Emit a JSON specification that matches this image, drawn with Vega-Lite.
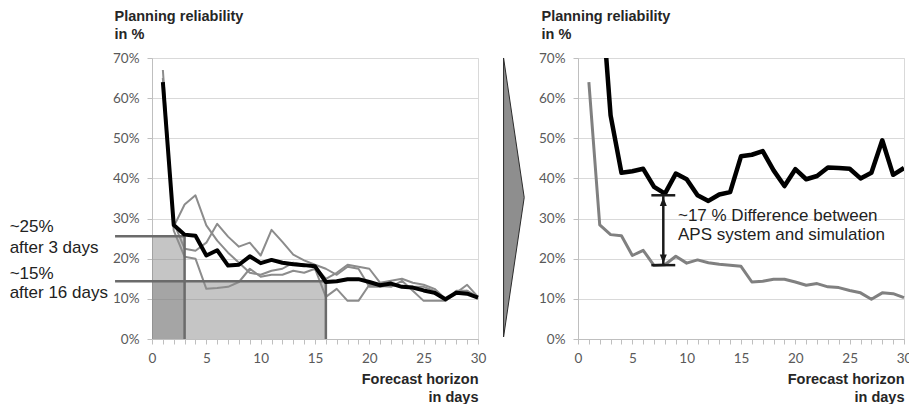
{
  "$schema": "https://vega.github.io/schema/vega-lite/v6.json",
  "background": "white",
  "padding": {"left": 9, "top": 7, "right": 0, "bottom": 0},
  "spacing": 100,
  "bounds": "flush",
  "config": {
    "view": {"stroke": "#d9d9d9"},
    "axis": {
      "labelFont": "Lato", "labelFontSize": 13.5, "labelColor": "#595959",
      "titleFont": "Liberation Sans", "titleFontSize": 14.5, "titleFontWeight": "bold", "titleColor": "#262626",
      "domainColor": "#bfbfbf", "tickColor": "#bfbfbf", "gridColor": "#d9d9d9", "tickSize": 5
    }
  },
  "datasets": {
    "sim": [
      {"day": 1, "value": 64}, {"day": 2, "value": 28.4}, {"day": 3, "value": 26}, {"day": 4, "value": 25.7},
      {"day": 5, "value": 20.8}, {"day": 6, "value": 22.1}, {"day": 7, "value": 18.3}, {"day": 8, "value": 18.5},
      {"day": 9, "value": 20.6}, {"day": 10, "value": 18.9}, {"day": 11, "value": 19.7}, {"day": 12, "value": 19.0},
      {"day": 13, "value": 18.6}, {"day": 14, "value": 18.4}, {"day": 15, "value": 18.1}, {"day": 16, "value": 14.2},
      {"day": 17, "value": 14.4}, {"day": 18, "value": 14.9}, {"day": 19, "value": 14.9}, {"day": 20, "value": 14.2},
      {"day": 21, "value": 13.4}, {"day": 22, "value": 13.8}, {"day": 23, "value": 13.0}, {"day": 24, "value": 12.8},
      {"day": 25, "value": 12.1}, {"day": 26, "value": 11.5}, {"day": 27, "value": 9.9}, {"day": 28, "value": 11.5},
      {"day": 29, "value": 11.3}, {"day": 30, "value": 10.3}
    ],
    "aps": [
      {"day": 2, "value": 91.5}, {"day": 3, "value": 55.7}, {"day": 4, "value": 41.4}, {"day": 5, "value": 41.8},
      {"day": 6, "value": 42.4}, {"day": 7, "value": 37.9}, {"day": 8, "value": 36.2}, {"day": 9, "value": 41.2},
      {"day": 10, "value": 39.8}, {"day": 11, "value": 35.8}, {"day": 12, "value": 34.4}, {"day": 13, "value": 36.0},
      {"day": 14, "value": 36.6}, {"day": 15, "value": 45.5}, {"day": 16, "value": 45.9}, {"day": 17, "value": 46.8},
      {"day": 18, "value": 42.0}, {"day": 19, "value": 38.1}, {"day": 20, "value": 42.3}, {"day": 21, "value": 39.8},
      {"day": 22, "value": 40.6}, {"day": 23, "value": 42.7}, {"day": 24, "value": 42.6}, {"day": 25, "value": 42.4},
      {"day": 26, "value": 40.0}, {"day": 27, "value": 41.4}, {"day": 28, "value": 49.5}, {"day": 29, "value": 40.9},
      {"day": 30, "value": 42.6}
    ],
    "runs": [
      {"run": "a", "day": 1, "value": 67}, {"run": "a", "day": 2, "value": 28}, {"run": "a", "day": 3, "value": 33.5},
      {"run": "a", "day": 4, "value": 35.8}, {"run": "a", "day": 5, "value": 28.3}, {"run": "a", "day": 6, "value": 24.5},
      {"run": "a", "day": 7, "value": 21.5}, {"run": "a", "day": 8, "value": 19}, {"run": "a", "day": 9, "value": 16.5},
      {"run": "a", "day": 10, "value": 16}, {"run": "a", "day": 11, "value": 17}, {"run": "a", "day": 12, "value": 17.5},
      {"run": "a", "day": 13, "value": 19}, {"run": "a", "day": 14, "value": 18.5}, {"run": "a", "day": 15, "value": 18},
      {"run": "a", "day": 16, "value": 15}, {"run": "a", "day": 17, "value": 16.5}, {"run": "a", "day": 18, "value": 18.5},
      {"run": "a", "day": 19, "value": 18}, {"run": "a", "day": 20, "value": 17.5}, {"run": "a", "day": 21, "value": 14},
      {"run": "a", "day": 22, "value": 14.5}, {"run": "a", "day": 23, "value": 15}, {"run": "a", "day": 24, "value": 14},
      {"run": "a", "day": 25, "value": 13.5}, {"run": "a", "day": 26, "value": 12.5}, {"run": "a", "day": 27, "value": 10},
      {"run": "a", "day": 28, "value": 11.5}, {"run": "a", "day": 29, "value": 12}, {"run": "a", "day": 30, "value": 10.5},
      {"run": "b", "day": 1, "value": 65}, {"run": "b", "day": 2, "value": 29}, {"run": "b", "day": 3, "value": 22.5},
      {"run": "b", "day": 4, "value": 22}, {"run": "b", "day": 5, "value": 24}, {"run": "b", "day": 6, "value": 28.7},
      {"run": "b", "day": 7, "value": 25.5}, {"run": "b", "day": 8, "value": 23}, {"run": "b", "day": 9, "value": 24},
      {"run": "b", "day": 10, "value": 20.8}, {"run": "b", "day": 11, "value": 27.2}, {"run": "b", "day": 12, "value": 24.2},
      {"run": "b", "day": 13, "value": 21}, {"run": "b", "day": 14, "value": 19.6}, {"run": "b", "day": 15, "value": 18.5},
      {"run": "b", "day": 16, "value": 17.5}, {"run": "b", "day": 17, "value": 16}, {"run": "b", "day": 18, "value": 18},
      {"run": "b", "day": 19, "value": 17.5}, {"run": "b", "day": 20, "value": 13}, {"run": "b", "day": 21, "value": 13},
      {"run": "b", "day": 22, "value": 13.5}, {"run": "b", "day": 23, "value": 13}, {"run": "b", "day": 24, "value": 13},
      {"run": "b", "day": 25, "value": 13}, {"run": "b", "day": 26, "value": 12}, {"run": "b", "day": 27, "value": 9.5},
      {"run": "b", "day": 28, "value": 11.5}, {"run": "b", "day": 29, "value": 13.5}, {"run": "b", "day": 30, "value": 10.5},
      {"run": "c", "day": 1, "value": 65}, {"run": "c", "day": 2, "value": 27}, {"run": "c", "day": 3, "value": 20.5},
      {"run": "c", "day": 4, "value": 20}, {"run": "c", "day": 5, "value": 12.5}, {"run": "c", "day": 6, "value": 12.7},
      {"run": "c", "day": 7, "value": 13}, {"run": "c", "day": 8, "value": 14.2}, {"run": "c", "day": 9, "value": 17.5},
      {"run": "c", "day": 10, "value": 15.5}, {"run": "c", "day": 11, "value": 16}, {"run": "c", "day": 12, "value": 16},
      {"run": "c", "day": 13, "value": 17}, {"run": "c", "day": 14, "value": 16.5}, {"run": "c", "day": 15, "value": 17.5},
      {"run": "c", "day": 16, "value": 10.5}, {"run": "c", "day": 17, "value": 12.5}, {"run": "c", "day": 18, "value": 9.5},
      {"run": "c", "day": 19, "value": 9.5}, {"run": "c", "day": 20, "value": 13.5}, {"run": "c", "day": 21, "value": 13.2},
      {"run": "c", "day": 22, "value": 13}, {"run": "c", "day": 23, "value": 14.5}, {"run": "c", "day": 24, "value": 12},
      {"run": "c", "day": 25, "value": 9.5}, {"run": "c", "day": 26, "value": 9.5}, {"run": "c", "day": 27, "value": 9.5},
      {"run": "c", "day": 28, "value": 12}, {"run": "c", "day": 29, "value": 12}, {"run": "c", "day": 30, "value": 10}
    ],
    "zones": [
      {"day": 0, "day2": 3, "value": 0, "value2": 25.6},
      {"day": 0, "day2": 16, "value": 0, "value2": 14.4}
    ],
    "guides": [
      {"day": -3.4, "day2": 3, "value": 25.6, "value2": 25.6},
      {"day": 3, "day2": 3, "value": 0, "value2": 25.6},
      {"day": -3.4, "day2": 16, "value": 14.4, "value2": 14.4},
      {"day": 16, "day2": 16, "value": 0, "value2": 14.4}
    ],
    "leftNotes": [
      {"label": "~25%", "day": -13.1, "value": 27.9},
      {"label": "after 3 days", "day": -13.1, "value": 22.7},
      {"label": "~15%", "day": -13.1, "value": 16.3},
      {"label": "after 16 days", "day": -13.1, "value": 11.5}
    ],
    "gap": [
      {"day": 6.75, "day2": 8.95, "value": 35.8, "value2": 35.8},
      {"day": 6.75, "day2": 8.95, "value": 18.4, "value2": 18.4},
      {"day": 7.85, "day2": 7.85, "value": 18.6, "value2": 35.6}
    ],
    "heads": [
      {"dir": "up", "day": 7.85, "value": 35.3},
      {"dir": "down", "day": 7.85, "value": 18.9}
    ],
    "rightNotes": [
      {"label": "~17 % Difference between", "day": 9.2, "value": 30.6},
      {"label": "APS system and simulation", "day": 9.2, "value": 26.0}
    ],
    "chevron": [
      {"day": -5.9, "value": 35.25}
    ]
  },
  "hconcat": [
    {
      "width": 326,
      "height": 281,
      "encoding": {
        "x": {
          "field": "day", "type": "quantitative",
          "scale": {"domain": [0, 30], "nice": false, "zero": false},
          "axis": {
            "title": ["Forecast horizon", "in days"], "titleAlign": "right", "titleAnchor": null,
            "titleX": 326, "titleY": 33, "titleBaseline": "top", "titleLineHeight": 18,
            "values": [0,1,2,3,4,5,6,7,8,9,10,11,12,13,14,15,16,17,18,19,20,21,22,23,24,25,26,27,28,29,30],
            "labelExpr": "datum.value % 5 === 0 ? datum.label : ''",
            "grid": false, "labelPadding": 7, "labelOverlap": false, "labelFlush": false
          }
        },
        "y": {
          "field": "value", "type": "quantitative",
          "scale": {"domain": [0, 70], "nice": false},
          "axis": {
            "title": ["Planning reliability", "in %"], "titleAngle": 0, "titleAlign": "left", "titleAnchor": null,
            "titleX": -38, "titleY": -49, "titleBaseline": "top", "titleLineHeight": 18,
            "values": [0,10,20,30,40,50,60,70], "labelExpr": "datum.value + '%'",
            "grid": true, "labelPadding": 8
          }
        }
      },
      "layer": [
        {
          "data": {"name": "zones"},
          "mark": {"type": "rect", "fill": "#7f7f7f", "opacity": 0.45},
          "encoding": {"x2": {"field": "day2"}, "y2": {"field": "value2"}}
        },
        {
          "data": {"name": "runs"},
          "mark": {"type": "line", "stroke": "#8c8c8c", "strokeWidth": 2, "strokeJoin": "round"},
          "encoding": {"detail": {"field": "run"}}
        },
        {
          "data": {"name": "guides"},
          "mark": {"type": "rule", "stroke": "#6b6b6b", "strokeWidth": 2.5, "clip": false},
          "encoding": {"x2": {"field": "day2"}, "y2": {"field": "value2"}}
        },
        {
          "data": {"name": "sim"},
          "mark": {"type": "line", "stroke": "#000000", "strokeWidth": 4, "strokeJoin": "round"},
          "encoding": {}
        },
        {
          "data": {"name": "leftNotes"},
          "mark": {"type": "text", "align": "left", "baseline": "middle", "font": "Liberation Sans", "fontSize": 17, "fill": "#222222", "clip": false},
          "encoding": {"text": {"field": "label"}}
        }
      ]
    },
    {
      "width": 326,
      "height": 281,
      "encoding": {
        "x": {
          "field": "day", "type": "quantitative",
          "scale": {"domain": [0, 30], "nice": false, "zero": false},
          "axis": {
            "title": ["Forecast horizon", "in days"], "titleAlign": "right", "titleAnchor": null,
            "titleX": 326, "titleY": 33, "titleBaseline": "top", "titleLineHeight": 18,
            "values": [0,1,2,3,4,5,6,7,8,9,10,11,12,13,14,15,16,17,18,19,20,21,22,23,24,25,26,27,28,29,30],
            "labelExpr": "datum.value % 5 === 0 ? datum.label : ''",
            "grid": false, "labelPadding": 7, "labelOverlap": false, "labelFlush": false
          }
        },
        "y": {
          "field": "value", "type": "quantitative",
          "scale": {"domain": [0, 70], "nice": false},
          "axis": {
            "title": ["Planning reliability", "in %"], "titleAngle": 0, "titleAlign": "left", "titleAnchor": null,
            "titleX": -37, "titleY": -49, "titleBaseline": "top", "titleLineHeight": 18,
            "values": [0,10,20,30,40,50,60,70], "labelExpr": "datum.value + '%'",
            "grid": true, "labelPadding": 8
          }
        }
      },
      "layer": [
        {
          "data": {"name": "chevron"},
          "mark": {"type": "point", "shape": "M-0.074,-1L0.074,0L-0.074,1Z", "size": 77841, "filled": true, "fill": "#8e8e8e", "stroke": "#2b2b2b", "strokeWidth": 1, "opacity": 1, "clip": false},
          "encoding": {}
        },
        {
          "data": {"name": "sim"},
          "mark": {"type": "line", "stroke": "#808080", "strokeWidth": 3, "strokeJoin": "round"},
          "encoding": {}
        },
        {
          "data": {"name": "aps"},
          "mark": {"type": "line", "stroke": "#000000", "strokeWidth": 4.5, "strokeJoin": "round", "clip": true},
          "encoding": {}
        },
        {
          "data": {"name": "gap"},
          "mark": {"type": "rule", "stroke": "#1a1a1a", "strokeWidth": 2.5},
          "encoding": {"x2": {"field": "day2"}, "y2": {"field": "value2"}}
        },
        {
          "data": {"name": "heads"},
          "mark": {"type": "point", "filled": true, "fill": "#1a1a1a", "size": 49, "opacity": 1},
          "encoding": {
            "shape": {"field": "dir", "type": "nominal", "scale": {"domain": ["up", "down"], "range": ["M0,0L-1,2.5L1,2.5Z", "M0,0L-1,-2.5L1,-2.5Z"]}, "legend": null}
          }
        },
        {
          "data": {"name": "rightNotes"},
          "mark": {"type": "text", "align": "left", "baseline": "middle", "font": "Liberation Sans", "fontSize": 17, "fill": "#222222"},
          "encoding": {"text": {"field": "label"}}
        }
      ]
    }
  ]
}
